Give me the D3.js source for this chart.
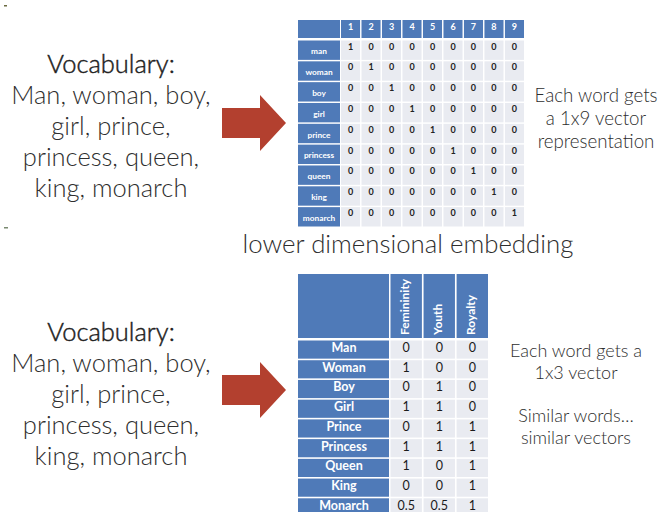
<!DOCTYPE html>
<html><head><meta charset="utf-8">
<script src="https://cdn.jsdelivr.net/npm/d3@7"></script>
<style>body{margin:0;background:#fff}svg{display:block}</style>
</head><body>
<svg id="c" width="661" height="512"></svg>
<script>
// ---- data ----
const topWords = ["man","woman","boy","girl","prince","princess","queen","king","monarch"];
const topColumns = ["1","2","3","4","5","6","7","8","9"];
const oneHot = [
  [1,0,0,0,0,0,0,0,0],
  [0,1,0,0,0,0,0,0,0],
  [0,0,1,0,0,0,0,0,0],
  [0,0,0,1,0,0,0,0,0],
  [0,0,0,0,1,0,0,0,0],
  [0,0,0,0,0,1,0,0,0],
  [0,0,0,0,0,0,1,0,0],
  [0,0,0,0,0,0,0,1,0],
  [0,0,0,0,0,0,0,0,1]
];
const bottomWords = ["Man","Woman","Boy","Girl","Prince","Princess","Queen","King","Monarch"];
const features = ["Femininity","Youth","Royalty"];
const femininity = [0,1,0,1,0,1,1,0,0.5];
const youth      = [0,0,1,1,1,1,0,0,0.5];
const royalty    = [0,0,0,0,1,1,1,1,1];
const vocabTitle = "Vocabulary:";
const vocabLines = ["Man, woman, boy,","girl, prince,","princess, queen,","king, monarch"];
const topNote = ["Each word gets","a 1x9 vector","representation"];
const bottomNote = ["Each word gets a","1x3 vector","","Similar words…","similar vectors"];
const middleTitle = "lower dimensional embedding";

// ---- styles ----
const BLUE = "#4f7ab8", CELL = "#e9ebf1", TXT = "#2e2e2e", RED = "#b3402f";
const svg = d3.select("#c");
svg.append("rect").attr("width",661).attr("height",512).attr("fill","#fff");

// tiny slide marks
svg.append("rect").attr("x",4).attr("y",5).attr("width",3).attr("height",1.5).attr("fill","#6b6a40");
svg.append("rect").attr("x",4).attr("y",227).attr("width",4).attr("height",1.5).attr("fill","#7a8a70");

// ---- vocabulary blocks ----
function vocab(y0){
  const g = svg.append("g").attr("font-family","Lato, sans-serif").attr("fill",TXT).attr("text-anchor","middle");
  g.append("text").attr("x",111).attr("y",y0).attr("font-size",25.5).attr("font-weight",300)
    .attr("fill","#222").attr("stroke","#222").attr("stroke-width",0.45).text(vocabTitle);
  g.selectAll("text.l").data(vocabLines).join("text").attr("class","l")
    .attr("x",111).attr("y",(d,i)=>y0+31*(i+1)).attr("font-size",25.5).attr("font-weight",300).text(d=>d);
}
vocab(73);
vocab(341);

// ---- arrows ----
function arrow(cy){
  const p = d3.path();
  p.moveTo(222,cy-15); p.lineTo(260,cy-15); p.lineTo(260,cy-28); p.lineTo(286,cy);
  p.lineTo(260,cy+28); p.lineTo(260,cy+15); p.lineTo(222,cy+15); p.closePath();
  svg.append("path").attr("d",p.toString()).attr("fill",RED);
}
arrow(123);
arrow(390);

// ---- top table ----
const tx = d3.scaleBand().domain(topColumns).range([341,524]).paddingInner(0.07);
const ty = d3.scaleBand().domain(topWords).range([40.5,226.5]).paddingInner(0.07);
const tg = svg.append("g").attr("font-family","Lato, 'Open Sans', sans-serif");
tg.append("rect").attr("x",298).attr("y",20).attr("width",42).attr("height",18).attr("fill",BLUE);
tg.selectAll("rect.h").data(topColumns).join("rect").attr("class","h")
  .attr("x",d=>tx(d)).attr("y",20).attr("width",tx.bandwidth()).attr("height",18).attr("fill",BLUE);
tg.selectAll("text.h").data(topColumns).join("text").attr("class","h")
  .attr("x",d=>tx(d)+tx.bandwidth()/2).attr("y",30).attr("text-anchor","middle")
  .attr("font-size",9).attr("font-weight",700).attr("fill","#fff").text(d=>d);
tg.selectAll("rect.lab").data(topWords).join("rect").attr("class","lab")
  .attr("x",298).attr("y",d=>ty(d)).attr("width",42).attr("height",ty.bandwidth()).attr("fill",BLUE);
tg.selectAll("text.lab").data(topWords).join("text").attr("class","lab")
  .attr("x",319).attr("y",d=>ty(d)+ty.bandwidth()/2+4).attr("text-anchor","middle")
  .attr("font-size",8.3).attr("font-weight",700).attr("fill","#fff").text(d=>d);
const topCells = [];
oneHot.forEach((row,i)=>row.forEach((v,j)=>topCells.push({w:topWords[i],c:topColumns[j],v})));
tg.selectAll("rect.c").data(topCells).join("rect").attr("class","c")
  .attr("x",d=>tx(d.c)).attr("y",d=>ty(d.w)).attr("width",tx.bandwidth()).attr("height",ty.bandwidth()).attr("fill",CELL);
tg.selectAll("text.c").data(topCells).join("text").attr("class","c")
  .attr("x",d=>tx(d.c)+tx.bandwidth()/2).attr("y",d=>ty(d.w)+9).attr("text-anchor","middle")
  .attr("font-size",9).attr("font-weight",700).attr("fill","#222").text(d=>d.v);

// top note
svg.append("g").attr("font-family","Lato, sans-serif").attr("font-weight",300).attr("fill",TXT).attr("text-anchor","middle")
  .selectAll("text").data(topNote).join("text")
  .attr("x",596).attr("y",(d,i)=>102+23*i).attr("font-size",18.7).text(d=>d);

// middle title
svg.append("text").attr("x",408).attr("y",253).attr("text-anchor","middle")
  .attr("font-family","Lato, sans-serif").attr("font-weight",300).attr("font-size",25.8).attr("fill",TXT).text(middleTitle);

// ---- bottom table ----
const embedding = bottomWords.map((w,i)=>({w, vals:[femininity[i],youth[i],royalty[i]]}));
const bx = d3.scaleBand().domain(features).range([390.5,488]).paddingInner(0.05);
const by = d3.scaleBand().domain(bottomWords).range([340.5,340.5+9*19.55]).paddingInner(0.08);
const bg = svg.append("g").attr("font-family","Lato, 'Open Sans', sans-serif");
bg.append("rect").attr("x",298).attr("y",274).attr("width",91).attr("height",64).attr("fill",BLUE);
bg.selectAll("rect.h").data(features).join("rect").attr("class","h")
  .attr("x",d=>bx(d)).attr("y",274).attr("width",bx.bandwidth()).attr("height",64).attr("fill",BLUE);
bg.selectAll("text.h").data(features).join("text").attr("class","h")
  .attr("transform",d=>`translate(${bx(d)+bx.bandwidth()/2+3},335) rotate(-90)`)
  .attr("font-size",12).attr("font-weight",700).attr("fill","#fff").text(d=>d);
bg.selectAll("rect.lab").data(bottomWords).join("rect").attr("class","lab")
  .attr("x",298).attr("y",d=>by(d)).attr("width",91).attr("height",by.bandwidth()).attr("fill",BLUE);
bg.selectAll("text.lab").data(bottomWords).join("text").attr("class","lab")
  .attr("x",344).attr("y",d=>by(d)+11.5).attr("text-anchor","middle")
  .attr("font-size",12.5).attr("font-weight",700).attr("fill","#fff").text(d=>d);
const botCells = [];
embedding.forEach(r=>r.vals.forEach((v,j)=>botCells.push({w:r.w,f:features[j],v})));
bg.selectAll("rect.c").data(botCells).join("rect").attr("class","c")
  .attr("x",d=>bx(d.f)).attr("y",d=>by(d.w)).attr("width",bx.bandwidth()).attr("height",by.bandwidth()).attr("fill",CELL);
bg.selectAll("text.c").data(botCells).join("text").attr("class","c")
  .attr("x",d=>bx(d.f)+bx.bandwidth()/2).attr("y",d=>by(d.w)+11.5).attr("text-anchor","middle")
  .attr("font-size",12.5).attr("fill","#1a1a1a").text(d=>d.v);

// bottom note
svg.append("g").attr("font-family","Lato, sans-serif").attr("font-weight",300).attr("fill",TXT).attr("text-anchor","middle")
  .selectAll("text").data(bottomNote).join("text")
  .attr("x",576).attr("y",(d,i)=>357+21.7*i).attr("font-size",18).text(d=>d);
</script>
</body></html>
